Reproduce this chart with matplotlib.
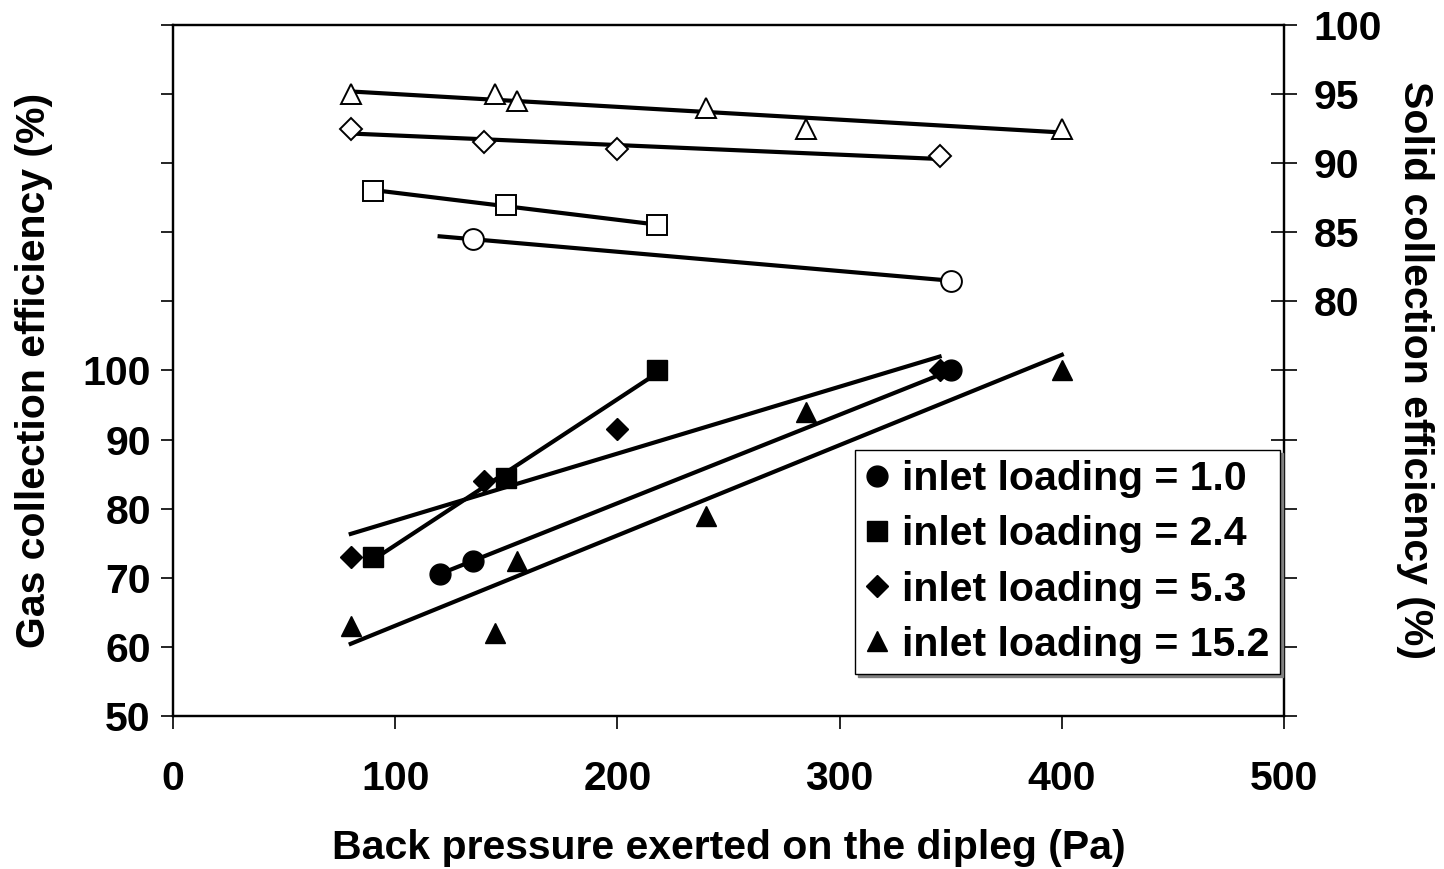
import matplotlib.pyplot as plt
import numpy as np

plt.rcParams['font.family'] = ['Liberation Sans', 'DejaVu Sans']
plt.rcParams['font.weight'] = 'bold'

loadings = ["1.0", "2.4", "5.3", "15.2"]
markers = ["o", "s", "D", "^"]
msizes = [15, 15, 11, 15]

# back pressure (Pa) for each inlet loading
press = [
    [120, 135, 350],
    [90, 150, 218],
    [80, 140, 200, 345],
    [80, 145, 155, 240, 285, 400],
]
# gas collection efficiency (%), left axis, filled markers
gas_eff = [
    [70.5, 72.5, 100],
    [73, 84.5, 100],
    [73, 84, 91.5, 100],
    [63, 62, 72.5, 79, 94, 100],
]
# solid collection efficiency (%), right axis, open markers
solid_eff = [
    [np.nan, 84.5, 81.5],
    [88, 87, 85.5],
    [92.5, 91.5, 91, 90.5],
    [95, 95, 94.5, 94, 92.5, 92.5],
]

FS = 29.5


def trend(ax, x, y):
    x = np.array(x, float)
    y = np.array(y, float)
    ok = ~np.isnan(y)
    k, b = np.polyfit(x[ok], y[ok], 1)
    xs = np.array([x.min(), x.max()])
    ax.plot(xs, k * xs + b, color="black", lw=3.0, zorder=2)


fig = plt.figure(figsize=(14.44, 8.69), dpi=100)
ax = fig.add_axes([0.1198, 0.1761, 0.7694, 0.7951])
ax2 = ax.twinx()

handles = []
for i in range(len(loadings)):
    h, = ax.plot(press[i], gas_eff[i], ls="none", marker=markers[i], ms=msizes[i],
                 color="black", zorder=3, label="inlet loading = " + loadings[i])
    handles.append(h)
    trend(ax, press[i], gas_eff[i])
    ax2.plot(press[i], solid_eff[i], ls="none", marker=markers[i], ms=msizes[i],
             mfc="white", mec="black", mew=1.4, zorder=3)
    trend(ax2, press[i], solid_eff[i])

ax.set_xlim(0, 500)
ax.set_ylim(50, 150)
ax2.set_ylim(50, 100)
ax.set_xticks(np.arange(0, 501, 100))
ax.set_yticks(np.arange(50, 151, 10))
ax.set_yticklabels([str(v) if v <= 100 else "" for v in range(50, 151, 10)])
ax2.set_yticks(np.arange(50, 101, 5))
ax2.set_yticklabels([str(v) if v >= 80 else "" for v in range(50, 101, 5)])

ax.tick_params(axis="x", direction="out", length=9, width=1.2, pad=23, labelsize=FS)
ax.tick_params(axis="y", direction="out", length=9, width=1.2, pad=7, labelsize=FS)
ax2.tick_params(axis="y", direction="inout", length=19, width=1.2, pad=12, labelsize=FS)

for a in (ax, ax2):
    for s in a.spines.values():
        s.set_linewidth(1.6)

ax.set_xlabel("Back pressure exerted on the dipleg (Pa)", fontsize=FS, fontweight="bold",
              labelpad=22)
ax.set_ylabel("Gas collection efficiency (%)", fontsize=FS, fontweight="bold", labelpad=21)
ax2.set_ylabel("Solid collection efficiency (%)", fontsize=FS, fontweight="bold",
               rotation=270, labelpad=37)

leg = ax2.legend(handles=handles, loc="lower right", bbox_to_anchor=(0.9964, 0.0608),
                 borderaxespad=0, fontsize=FS, handlelength=0.55, handletextpad=0.35,
                 labelspacing=0.42, borderpad=0.25, fancybox=False, edgecolor="black",
                 framealpha=1, shadow={"color": "0.5", "alpha": 1})
leg.get_frame().set_linewidth(1.0)

fig.savefig("out.png", dpi=100)
